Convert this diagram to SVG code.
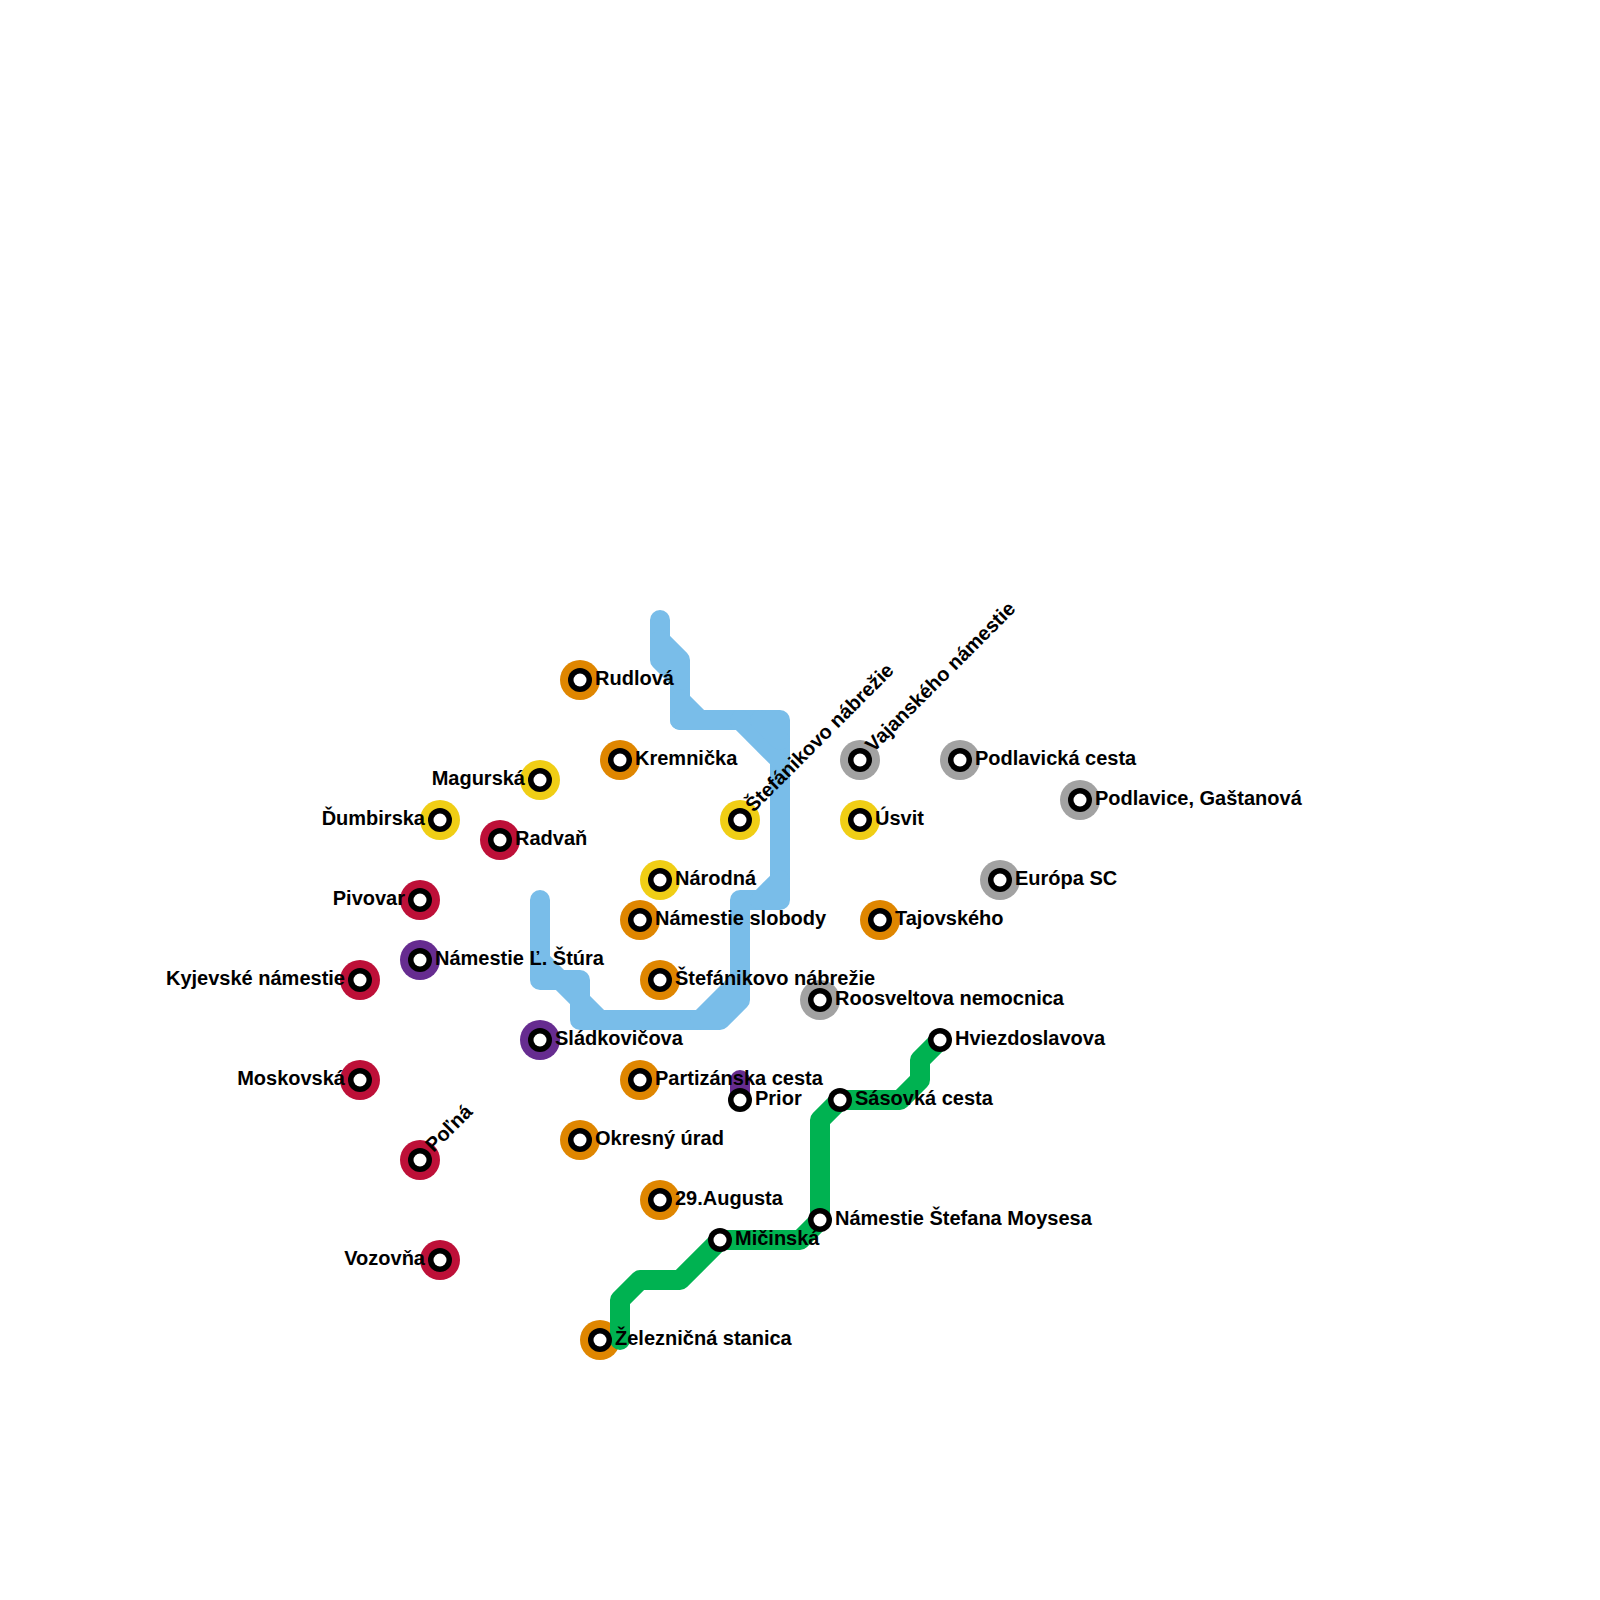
<svg xmlns="http://www.w3.org/2000/svg" width="1600" height="1600" viewBox="0 0 1600 1600">
<style>
.l{fill:none;stroke-width:20;stroke-linecap:round;stroke-linejoin:round}
.b{stroke:#79bde9}.g{stroke:#00b251}.p{stroke:#662c90}
.o{fill:#df8600}.y{fill:#f0ce15}.r{fill:#bd1038}.v{fill:#662c90}.a{fill:#a2a2a2}
.k{fill:#000}.w{fill:#fff}
text{font-family:"Liberation Sans",Arial,sans-serif;font-size:20px;font-weight:700;fill:#000}
.e{text-anchor:end}
</style>
<g id="rings">
<circle class="o" cx="580" cy="680" r="20"/><circle class="o" cx="620" cy="760" r="20"/><circle class="y" cx="540" cy="780" r="20"/><circle class="y" cx="440" cy="820" r="20"/><circle class="r" cx="500" cy="840" r="20"/><circle class="y" cx="740" cy="820" r="20"/><circle class="y" cx="860" cy="820" r="20"/><circle class="a" cx="860" cy="760" r="20"/><circle class="a" cx="960" cy="760" r="20"/><circle class="a" cx="1080" cy="800" r="20"/><circle class="a" cx="1000" cy="880" r="20"/><circle class="y" cx="660" cy="880" r="20"/><circle class="o" cx="640" cy="920" r="20"/><circle class="o" cx="880" cy="920" r="20"/><circle class="r" cx="420" cy="900" r="20"/><circle class="v" cx="420" cy="960" r="20"/><circle class="r" cx="360" cy="980" r="20"/><circle class="o" cx="660" cy="980" r="20"/><circle class="a" cx="820" cy="1000" r="20"/><circle class="v" cx="540" cy="1040" r="20"/><circle class="r" cx="360" cy="1080" r="20"/><circle class="o" cx="640" cy="1080" r="20"/><circle class="o" cx="580" cy="1140" r="20"/><circle class="r" cx="420" cy="1160" r="20"/><circle class="o" cx="660" cy="1200" r="20"/><circle class="r" cx="440" cy="1260" r="20"/><circle class="o" cx="600" cy="1340" r="20"/>
</g>
<g id="connectors">
<path class="l b" d="M660 620V640L680 660V720"/>
<path class="l b" d="M660 640V660L680 680"/>
<path class="l b" d="M680 700L700 720"/>
<path class="l b" d="M680 720H780V900H740V1000L720 1020H580V980H540V900"/>
<path class="l b" d="M740 720L780 760"/>
<path class="l b" d="M760 720L780 740"/>
<path class="l b" d="M780 880L760 900"/>
<path class="l b" d="M740 980L700 1020"/>
<path class="l b" d="M540 960L600 1020"/>
<path class="l g" d="M620 1340V1300L640 1280H680L720 1240H800L820 1220V1120L840 1100H900L920 1080V1060L940 1040"/>
<path class="l p" d="M740 1080V1100"/>
</g>
<g id="stations">
<g id="s1"><circle class="k" cx="580" cy="680" r="12"/><circle class="w" cx="580" cy="680" r="6.5"/><text x="595" y="685">Rudlová</text></g>
<g id="s2"><circle class="k" cx="620" cy="760" r="12"/><circle class="w" cx="620" cy="760" r="6.5"/><text x="635" y="765">Kremnička</text></g>
<g id="s3"><circle class="k" cx="540" cy="780" r="12"/><circle class="w" cx="540" cy="780" r="6.5"/><text class="e" x="525" y="785">Magurská</text></g>
<g id="s4"><circle class="k" cx="440" cy="820" r="12"/><circle class="w" cx="440" cy="820" r="6.5"/><text class="e" x="425" y="825">Ďumbirska</text></g>
<g id="s5"><circle class="k" cx="500" cy="840" r="12"/><circle class="w" cx="500" cy="840" r="6.5"/><text x="515" y="845">Radvaň</text></g>
<g id="s6"><circle class="k" cx="740" cy="820" r="12"/><circle class="w" cx="740" cy="820" r="6.5"/><text transform="translate(753.5 813) rotate(-45)">Štefánikovo nábrežie</text></g>
<g id="s7"><circle class="k" cx="860" cy="820" r="12"/><circle class="w" cx="860" cy="820" r="6.5"/><text x="875" y="825">Úsvit</text></g>
<g id="s8"><circle class="k" cx="860" cy="760" r="12"/><circle class="w" cx="860" cy="760" r="6.5"/><text transform="translate(873.5 753) rotate(-45)">Vajanského námestie</text></g>
<g id="s9"><circle class="k" cx="960" cy="760" r="12"/><circle class="w" cx="960" cy="760" r="6.5"/><text x="975" y="765">Podlavická cesta</text></g>
<g id="s10"><circle class="k" cx="1080" cy="800" r="12"/><circle class="w" cx="1080" cy="800" r="6.5"/><text x="1095" y="805">Podlavice, Gaštanová</text></g>
<g id="s11"><circle class="k" cx="1000" cy="880" r="12"/><circle class="w" cx="1000" cy="880" r="6.5"/><text x="1015" y="885">Európa SC</text></g>
<g id="s12"><circle class="k" cx="660" cy="880" r="12"/><circle class="w" cx="660" cy="880" r="6.5"/><text x="675" y="885">Národná</text></g>
<g id="s13"><circle class="k" cx="640" cy="920" r="12"/><circle class="w" cx="640" cy="920" r="6.5"/><text x="655" y="925">Námestie slobody</text></g>
<g id="s14"><circle class="k" cx="880" cy="920" r="12"/><circle class="w" cx="880" cy="920" r="6.5"/><text x="895" y="925">Tajovského</text></g>
<g id="s15"><circle class="k" cx="420" cy="900" r="12"/><circle class="w" cx="420" cy="900" r="6.5"/><text class="e" x="405" y="905">Pivovar</text></g>
<g id="s16"><circle class="k" cx="420" cy="960" r="12"/><circle class="w" cx="420" cy="960" r="6.5"/><text x="435" y="965">Námestie Ľ. Štúra</text></g>
<g id="s17"><circle class="k" cx="360" cy="980" r="12"/><circle class="w" cx="360" cy="980" r="6.5"/><text class="e" x="345" y="985">Kyjevské námestie</text></g>
<g id="s18"><circle class="k" cx="660" cy="980" r="12"/><circle class="w" cx="660" cy="980" r="6.5"/><text x="675" y="985">Štefánikovo nábrežie</text></g>
<g id="s19"><circle class="k" cx="820" cy="1000" r="12"/><circle class="w" cx="820" cy="1000" r="6.5"/><text x="835" y="1005">Roosveltova nemocnica</text></g>
<g id="s20"><circle class="k" cx="540" cy="1040" r="12"/><circle class="w" cx="540" cy="1040" r="6.5"/><text x="555" y="1045">Sládkovičova</text></g>
<g id="s21"><circle class="k" cx="940" cy="1040" r="12"/><circle class="w" cx="940" cy="1040" r="6.5"/><text x="955" y="1045">Hviezdoslavova</text></g>
<g id="s22"><circle class="k" cx="360" cy="1080" r="12"/><circle class="w" cx="360" cy="1080" r="6.5"/><text class="e" x="345" y="1085">Moskovská</text></g>
<g id="s23"><circle class="k" cx="640" cy="1080" r="12"/><circle class="w" cx="640" cy="1080" r="6.5"/><text x="655" y="1085">Partizánska cesta</text></g>
<g id="s24"><circle class="k" cx="740" cy="1100" r="12"/><circle class="w" cx="740" cy="1100" r="6.5"/><text x="755" y="1105">Prior</text></g>
<g id="s25"><circle class="k" cx="840" cy="1100" r="12"/><circle class="w" cx="840" cy="1100" r="6.5"/><text x="855" y="1105">Sásovká cesta</text></g>
<g id="s26"><circle class="k" cx="580" cy="1140" r="12"/><circle class="w" cx="580" cy="1140" r="6.5"/><text x="595" y="1145">Okresný úrad</text></g>
<g id="s27"><circle class="k" cx="420" cy="1160" r="12"/><circle class="w" cx="420" cy="1160" r="6.5"/><text transform="translate(433.5 1153) rotate(-45)">Poľná</text></g>
<g id="s28"><circle class="k" cx="660" cy="1200" r="12"/><circle class="w" cx="660" cy="1200" r="6.5"/><text x="675" y="1205">29.Augusta</text></g>
<g id="s29"><circle class="k" cx="820" cy="1220" r="12"/><circle class="w" cx="820" cy="1220" r="6.5"/><text x="835" y="1225">Námestie Štefana Moysesa</text></g>
<g id="s30"><circle class="k" cx="720" cy="1240" r="12"/><circle class="w" cx="720" cy="1240" r="6.5"/><text x="735" y="1245">Mičinská</text></g>
<g id="s31"><circle class="k" cx="440" cy="1260" r="12"/><circle class="w" cx="440" cy="1260" r="6.5"/><text class="e" x="425" y="1265">Vozovňa</text></g>
<g id="s32"><circle class="k" cx="600" cy="1340" r="12"/><circle class="w" cx="600" cy="1340" r="6.5"/><text x="615" y="1345">Železničná stanica</text></g>
</g>
</svg>
